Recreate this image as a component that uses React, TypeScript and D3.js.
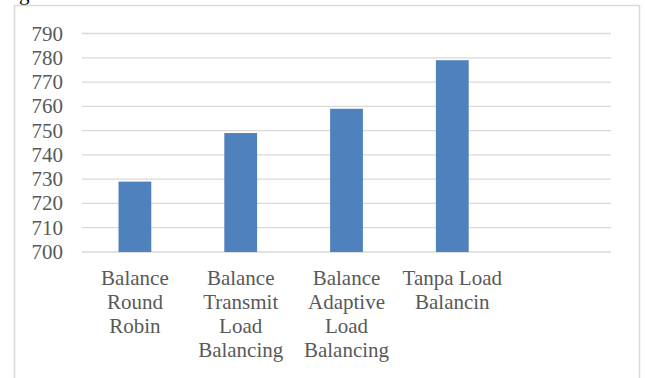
import React, { useEffect, useRef } from 'react';
import * as d3 from 'd3';

const categories = ['Balance Round Robin', 'Balance Transmit Load Balancing', 'Balance Adaptive Load Balancing', 'Tanpa Load Balancin'];
const labelLines = [
  ['Balance', 'Round', 'Robin'],
  ['Balance', 'Transmit', 'Load', 'Balancing'],
  ['Balance', 'Adaptive', 'Load', 'Balancing'],
  ['Tanpa Load', 'Balancin'],
];
const values = [729, 749, 759, 779];
const yTicks = [700, 710, 720, 730, 740, 750, 760, 770, 780, 790];

const App: React.FC = () => {
  const svgRef = useRef<SVGSVGElement>(null);

  useEffect(() => {
    if (!svgRef.current) return;
    const svg = d3.select(svgRef.current);
    svg.selectAll('*').remove();

    const font = '"Liberation Serif", "Times New Roman", serif';
    const textColor = '#595959';
    const fs = '21px';

    // cropped caption descender above the chart
    svg.append('text').attr('x', 19).attr('y', 0).attr('font-family', font)
      .attr('font-size', fs).attr('fill', '#000').text('g');

    // chart area border
    svg.append('rect').attr('x', 14.5).attr('y', 5.5).attr('width', 625).attr('height', 400)
      .attr('fill', 'none').attr('stroke', '#d9d9d9').attr('stroke-width', 1.5);

    // five category slots, the last one is empty
    const x = d3.scaleBand<number>().domain([0, 1, 2, 3, 4]).range([82, 611]).paddingInner(0.69).paddingOuter(0.345);
    const slot = d3.scaleBand<number>().domain([0, 1, 2, 3, 4]).range([82, 611]);
    const y = d3.scaleLinear().domain([700, 790]).range([252, 33.5]);

    // gridlines
    svg.append('g').selectAll('line').data(yTicks).join('line')
      .attr('x1', 82).attr('x2', 611)
      .attr('y1', d => y(d)).attr('y2', d => y(d))
      .attr('stroke', '#d9d9d9').attr('stroke-width', 1.3);

    // y labels
    svg.append('g').selectAll('text').data(yTicks).join('text')
      .attr('x', 63).attr('y', d => y(d) + 7)
      .attr('text-anchor', 'end').attr('font-family', font).attr('font-size', fs)
      .attr('fill', textColor).text(d => d);

    // bars
    svg.append('g').selectAll('rect').data(values).join('rect')
      .attr('x', (_, i) => x(i)!)
      .attr('width', x.bandwidth())
      .attr('y', d => y(d))
      .attr('height', d => y(700) - y(d))
      .attr('fill', '#4f81bd');

    // category labels
    categories.forEach((_, i) => {
      const cx = slot(i)! + slot.bandwidth() / 2;
      const t = svg.append('text').attr('text-anchor', 'middle').attr('font-family', font)
        .attr('font-size', fs).attr('fill', textColor);
      labelLines[i].forEach((line, j) => {
        t.append('tspan').attr('x', cx).attr('y', 285 + j * 24).text(line);
      });
    });
  }, []);

  return (
    <svg ref={svgRef} width={645} height={378}
      style={{ position: 'absolute', left: 0, top: 0, background: '#fff' }} />
  );
};

export default App;
